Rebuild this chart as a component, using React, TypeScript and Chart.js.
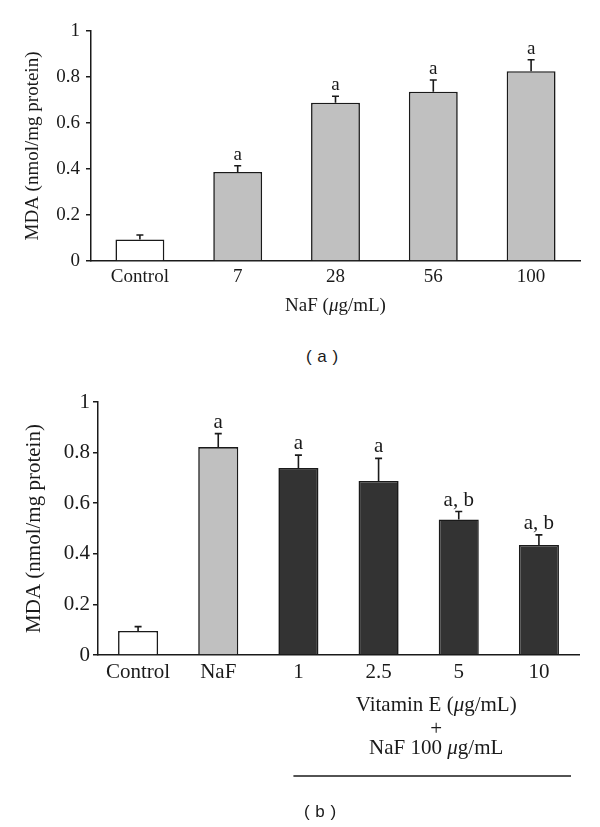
import React, { useEffect, useRef } from "react";
import { Chart, registerables } from "chart.js";

Chart.register(...registerables);

// ---------- data ----------
const topCategories = ["Control", "7", "28", "56", "100"];
const topMeans = [0.094, 0.387, 0.688, 0.736, 0.825];
const topErrors = [0.019, 0.027, 0.028, 0.051, 0.05];
const topLetters = ["", "a", "a", "a", "a"];

const botCategories = ["Control", "NaF", "1", "2.5", "5", "10"];
const botMeans = [0.095, 0.822, 0.739, 0.688, 0.536, 0.435];
const botErrors = [0.017, 0.053, 0.051, 0.089, 0.031, 0.04];
const botLetters = ["", "a", "a", "a", "a, b", "a, b"];

const yTickLabels = ["0", "0.2", "0.4", "0.6", "0.8", "1"];
const yTitle = "MDA (nmol/mg protein)";

const topColors = ["#ffffff", "#c0c0c0", "#c0c0c0", "#c0c0c0", "#c0c0c0"];
const botColors = ["#ffffff", "#c0c0c0", "#333333", "#333333", "#333333", "#333333"];

const SERIF = "'Liberation Serif', 'Times New Roman', serif";
const INK = "#1a1a1a";

type Part = { t: string; italic?: boolean };

function drawMixed(
  ctx: CanvasRenderingContext2D,
  parts: Part[],
  cx: number,
  y: number,
  size: number,
  baseline: CanvasTextBaseline = "middle"
) {
  let total = 0;
  const widths = parts.map((p) => {
    ctx.font = `${p.italic ? "italic " : ""}${size}px ${SERIF}`;
    const w = ctx.measureText(p.t).width;
    total += w;
    return w;
  });
  let x = cx - total / 2;
  ctx.textAlign = "left";
  ctx.textBaseline = baseline;
  ctx.fillStyle = INK;
  parts.forEach((p, i) => {
    ctx.font = `${p.italic ? "italic " : ""}${size}px ${SERIF}`;
    ctx.fillText(p.t, x, y);
    x += widths[i];
  });
}

type PanelOpts = {
  categories: string[];
  means: number[];
  errors: number[];
  letters: string[];
  colors: string[];
  fontSize: number;
  padTop: number;
  padRight: number;
  yAxisWidth: number;
  xAxisHeight: number;
  yTickPad: number;
  titlePadTop: number;
  extraDraw: (chart: any) => void;
};

function makeChart(canvas: HTMLCanvasElement, o: PanelOpts) {
  const errPlugin = {
    id: "errbars",
    afterDatasetsDraw(chart: any) {
      const ctx = chart.ctx as CanvasRenderingContext2D;
      const ys = chart.scales.y;
      const meta = chart.getDatasetMeta(0);
      ctx.save();
      ctx.strokeStyle = INK;
      ctx.lineWidth = 1.6;
      meta.data.forEach((el: any, i: number) => {
        const x = el.x;
        const yTop = ys.getPixelForValue(o.means[i]);
        const yErr = ys.getPixelForValue(o.means[i] + o.errors[i]);
        ctx.beginPath();
        ctx.moveTo(x, yTop);
        ctx.lineTo(x, yErr);
        ctx.moveTo(x - 3.5, yErr);
        ctx.lineTo(x + 3.5, yErr);
        ctx.stroke();
        if (o.letters[i]) {
          ctx.fillStyle = INK;
          ctx.font = `${o.fontSize}px ${SERIF}`;
          ctx.textAlign = "center";
          ctx.textBaseline = "alphabetic";
          ctx.fillText(o.letters[i], x, yErr - 6);
        }
      });
      ctx.restore();
    },
    afterDraw(chart: any) {
      chart.ctx.save();
      o.extraDraw(chart);
      chart.ctx.restore();
    },
  };

  return new Chart(canvas, {
    type: "bar",
    data: {
      labels: o.categories,
      datasets: [
        {
          data: o.means,
          backgroundColor: o.colors,
          borderColor: INK,
          borderWidth: 1.6,
          barPercentage: 0.5,
          categoryPercentage: 1,
        },
      ],
    },
    options: {
      responsive: false,
      animation: false,
      devicePixelRatio: 1,
      layout: { padding: { top: o.padTop, right: o.padRight, left: 0, bottom: 0 } },
      plugins: { legend: { display: false }, tooltip: { enabled: false } },
      scales: {
        x: {
          type: "category",
          offset: true,
          grid: { display: false, drawTicks: false },
          border: { display: true, color: INK, width: 1.5 },
          ticks: {
            color: INK,
            font: { family: SERIF, size: o.fontSize },
            padding: 5,
            maxRotation: 0,
            autoSkip: false,
          },
          afterFit: (s: any) => {
            s.height = o.xAxisHeight;
          },
        },
        y: {
          min: 0,
          max: 1,
          grid: {
            display: true,
            drawOnChartArea: false,
            drawTicks: true,
            tickLength: 5,
            lineWidth: 1.5,
            color: INK,
          },
          border: { display: true, color: INK, width: 1.5 },
          ticks: {
            stepSize: 0.2,
            color: INK,
            font: { family: SERIF, size: o.fontSize },
            padding: o.yTickPad,
            callback: (_v: any, i: number) => yTickLabels[i],
          },
          title: {
            display: true,
            text: yTitle,
            color: INK,
            font: { family: SERIF, size: o.fontSize },
            padding: { top: o.titlePadTop, bottom: 0 },
          },
          afterFit: (s: any) => {
            s.width = o.yAxisWidth;
          },
        },
      },
    },
    plugins: [errPlugin],
  } as any);
}

function TopPanel() {
  const ref = useRef<HTMLCanvasElement | null>(null);
  useEffect(() => {
    if (!ref.current) return;
    const chart = makeChart(ref.current, {
      categories: topCategories,
      means: topMeans,
      errors: topErrors,
      letters: topLetters,
      colors: topColors,
      fontSize: 19,
      padTop: 31,
      padRight: 20,
      yAxisWidth: 91,
      xAxisHeight: 69,
      yTickPad: 6,
      titlePadTop: 22,
      extraDraw: (c: any) => {
        const a = c.chartArea;
        drawMixed(c.ctx, [{ t: "NaF (" }, { t: "\u03bc", italic: true }, { t: "g/mL)" }], (a.left + a.right) / 2, 306, 19);
      },
    });
    return () => chart.destroy();
  }, []);
  return <canvas ref={ref} width={600} height={330} style={{ position: "absolute", left: 0, top: 0, width: 600, height: 330 }} />;
}

function BottomPanel() {
  const ref = useRef<HTMLCanvasElement | null>(null);
  useEffect(() => {
    if (!ref.current) return;
    const chart = makeChart(ref.current, {
      categories: botCategories,
      means: botMeans,
      errors: botErrors,
      letters: botLetters,
      colors: botColors,
      fontSize: 21,
      padTop: 22,
      padRight: 21,
      yAxisWidth: 98,
      xAxisHeight: 172,
      yTickPad: 3,
      titlePadTop: 22,
      extraDraw: (c: any) => {
        const ctx = c.ctx as CanvasRenderingContext2D;
        const xs = c.scales.x;
        const start = xs.getPixelForValue(2) - 5;
        const end = c.chartArea.right - 8;
        const cx = (start + end) / 2 + 4;
        drawMixed(ctx, [{ t: "Vitamin E (" }, { t: "\u03bc", italic: true }, { t: "g/mL)" }], cx, 331, 21, "alphabetic");
        drawMixed(ctx, [{ t: "+" }], cx, 355, 21, "alphabetic");
        drawMixed(ctx, [{ t: "NaF 100 " }, { t: "\u03bc", italic: true }, { t: "g/mL" }], cx, 374, 21, "alphabetic");
        ctx.strokeStyle = INK;
        ctx.lineWidth = 1.5;
        ctx.beginPath();
        ctx.moveTo(start, 396);
        ctx.lineTo(end, 396);
        ctx.stroke();
      },
    });
    return () => chart.destroy();
  }, []);
  return <canvas ref={ref} width={600} height={447} style={{ position: "absolute", left: 0, top: 380, width: 600, height: 447 }} />;
}

const capStyle: React.CSSProperties = {
  position: "absolute",
  width: 100,
  textAlign: "center",
  fontFamily: "'Liberation Sans', Arial, sans-serif",
  fontSize: 17,
  lineHeight: "20px",
  color: INK,
  whiteSpace: "pre",
  wordSpacing: 1,
};

export default function App() {
  return (
    <div style={{ position: "fixed", left: 0, top: 0, width: 600, height: 827, background: "#ffffff", overflow: "hidden" }}>
      <TopPanel />
      <BottomPanel />
      <div style={{ ...capStyle, left: 272, top: 347 }}>( a )</div>
      <div style={{ ...capStyle, left: 270, top: 802 }}>( b )</div>
    </div>
  );
}
